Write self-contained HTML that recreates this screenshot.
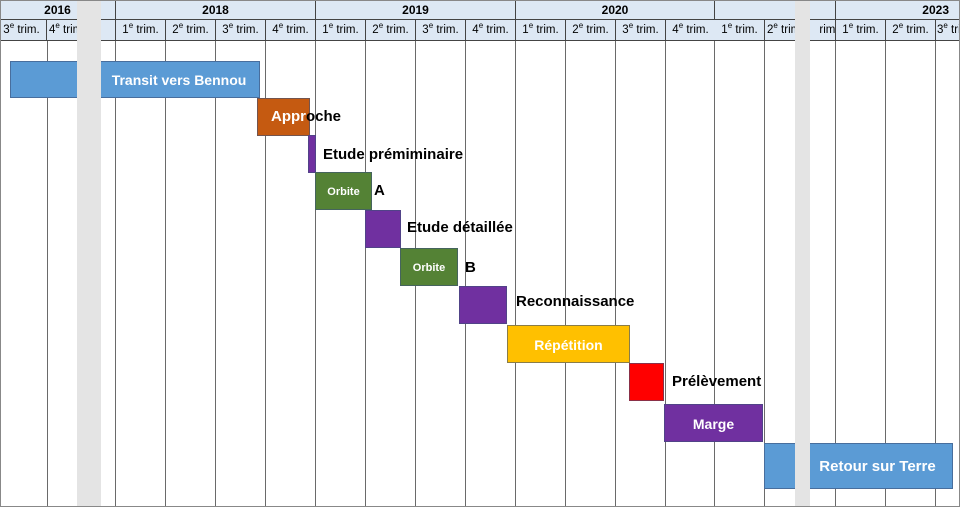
<!DOCTYPE html><html><head><meta charset="utf-8"><style>
body{margin:0;width:960px;height:507px;background:#fff;position:relative;overflow:hidden;font-family:"Liberation Sans",sans-serif;font-weight:bold}
div{position:absolute;box-sizing:border-box}
.v{top:41px;height:466px;width:1px;background:#6a6a6a}
.yr{top:0;height:20px;background:#dde8f4;font-size:12px;text-align:center;line-height:20px;border-right:1px solid #444;border-bottom:1px solid #444}
.q{top:20px;height:21px;background:#dde8f4;font-size:11.5px;font-weight:normal;line-height:21px;text-align:center;border-right:1px solid #444;border-bottom:1px solid #444;white-space:nowrap;overflow:hidden;width:50px}
.q sup{font-size:8px;vertical-align:5px;line-height:0}
.b{border:1px solid rgba(60,80,120,.6);color:#fff;text-align:center;font-size:14px}
.t{font-size:15px;color:#000;white-space:nowrap}
</style></head><body>
<div class="v" style="left:47px"></div><div class="v" style="left:115px"></div><div class="v" style="left:165px"></div><div class="v" style="left:215px"></div><div class="v" style="left:265px"></div><div class="v" style="left:315px"></div><div class="v" style="left:365px"></div><div class="v" style="left:415px"></div><div class="v" style="left:465px"></div><div class="v" style="left:515px"></div><div class="v" style="left:565px"></div><div class="v" style="left:615px"></div><div class="v" style="left:665px"></div><div class="v" style="left:714px"></div><div class="v" style="left:764px"></div><div class="v" style="left:835px"></div><div class="v" style="left:885px"></div><div class="v" style="left:935px"></div>
<div class="yr" style="left:0;width:116px">2016</div>
<div class="yr" style="left:116px;width:200px">2018</div>
<div class="yr" style="left:316px;width:200px">2019</div>
<div class="yr" style="left:516px;width:199px">2020</div>
<div class="yr" style="left:715px;width:121px"></div>
<div class="yr" style="left:836px;width:124px;text-align:right;padding-right:10px">2023</div>
<div class="q" style="left:-3px;width:50px">3<sup>e</sup> trim.</div>
<div class="q" style="left:47px;width:69px;text-align:left;padding-left:2px">4<sup>e</sup> trim.</div>
<div class="q" style="left:116px">1<sup>e</sup> trim.</div>
<div class="q" style="left:166px">2<sup>e</sup> trim.</div>
<div class="q" style="left:216px">3<sup>e</sup> trim.</div>
<div class="q" style="left:266px">4<sup>e</sup> trim.</div>
<div class="q" style="left:316px">1<sup>e</sup> trim.</div>
<div class="q" style="left:366px">2<sup>e</sup> trim.</div>
<div class="q" style="left:416px">3<sup>e</sup> trim.</div>
<div class="q" style="left:466px">4<sup>e</sup> trim.</div>
<div class="q" style="left:516px">1<sup>e</sup> trim.</div>
<div class="q" style="left:566px">2<sup>e</sup> trim.</div>
<div class="q" style="left:616px">3<sup>e</sup> trim.</div>
<div class="q" style="left:666px">4<sup>e</sup> trim.</div>
<div class="q" style="left:715px">1<sup>e</sup> trim.</div>
<div class="q" style="left:765px;width:71px;text-align:left;padding-left:2px">2<sup>e</sup> trim.&nbsp;&nbsp;&nbsp;&nbsp;&nbsp;rim.</div>
<div class="q" style="left:836px">1<sup>e</sup> trim.</div>
<div class="q" style="left:886px">2<sup>e</sup> trim.</div>
<div class="q" style="left:936px;text-align:left;padding-left:1px">3<sup>e</sup> trim.</div>
<div class="b" style="left:10px;top:61px;width:250px;height:37px;background:#5b9bd5;padding-left:88px;line-height:37px">Transit vers Bennou</div>
<div class="b" style="left:257px;top:98px;width:53px;height:38px;background:#c55a11"></div>
<div class="t" style="left:271px;top:108px;color:#fff">Appr<span style="color:#000">oche</span></div>
<div class="b" style="left:308px;top:135px;width:8px;height:38px;background:#7030a0"></div>
<div class="t" style="left:323px;top:146px">Etude prémiminaire</div>
<div class="b" style="left:315px;top:172px;width:57px;height:38px;background:#548235;font-size:11px;line-height:38px">Orbite</div>
<div class="t" style="left:374px;top:182px">A</div>
<div class="b" style="left:365px;top:210px;width:36px;height:38px;background:#7030a0"></div>
<div class="t" style="left:407px;top:219px">Etude détaillée</div>
<div class="b" style="left:400px;top:248px;width:58px;height:38px;background:#548235;font-size:11px;line-height:38px">Orbite</div>
<div class="t" style="left:465px;top:259px">B</div>
<div class="b" style="left:459px;top:286px;width:48px;height:38px;background:#7030a0"></div>
<div class="t" style="left:516px;top:293px">Reconnaissance</div>
<div class="b" style="left:507px;top:325px;width:123px;height:38px;background:#ffc000;line-height:38px">Répétition</div>
<div class="b" style="left:629px;top:363px;width:35px;height:38px;background:#ff0000"></div>
<div class="t" style="left:672px;top:373px">Prélèvement</div>
<div class="b" style="left:664px;top:404px;width:99px;height:38px;background:#7030a0;line-height:38px">Marge</div>
<div class="b" style="left:764px;top:443px;width:189px;height:46px;background:#5b9bd5;line-height:46px;font-size:15px;padding-left:38px">Retour sur Terre</div>
<div style="left:77px;top:0;width:24px;height:507px;background:#e4e4e4"></div>
<div style="left:795px;top:0;width:15px;height:507px;background:#e4e4e4"></div>
<div style="left:0;top:0;width:960px;height:507px;border:1px solid #888"></div>
</body></html>
